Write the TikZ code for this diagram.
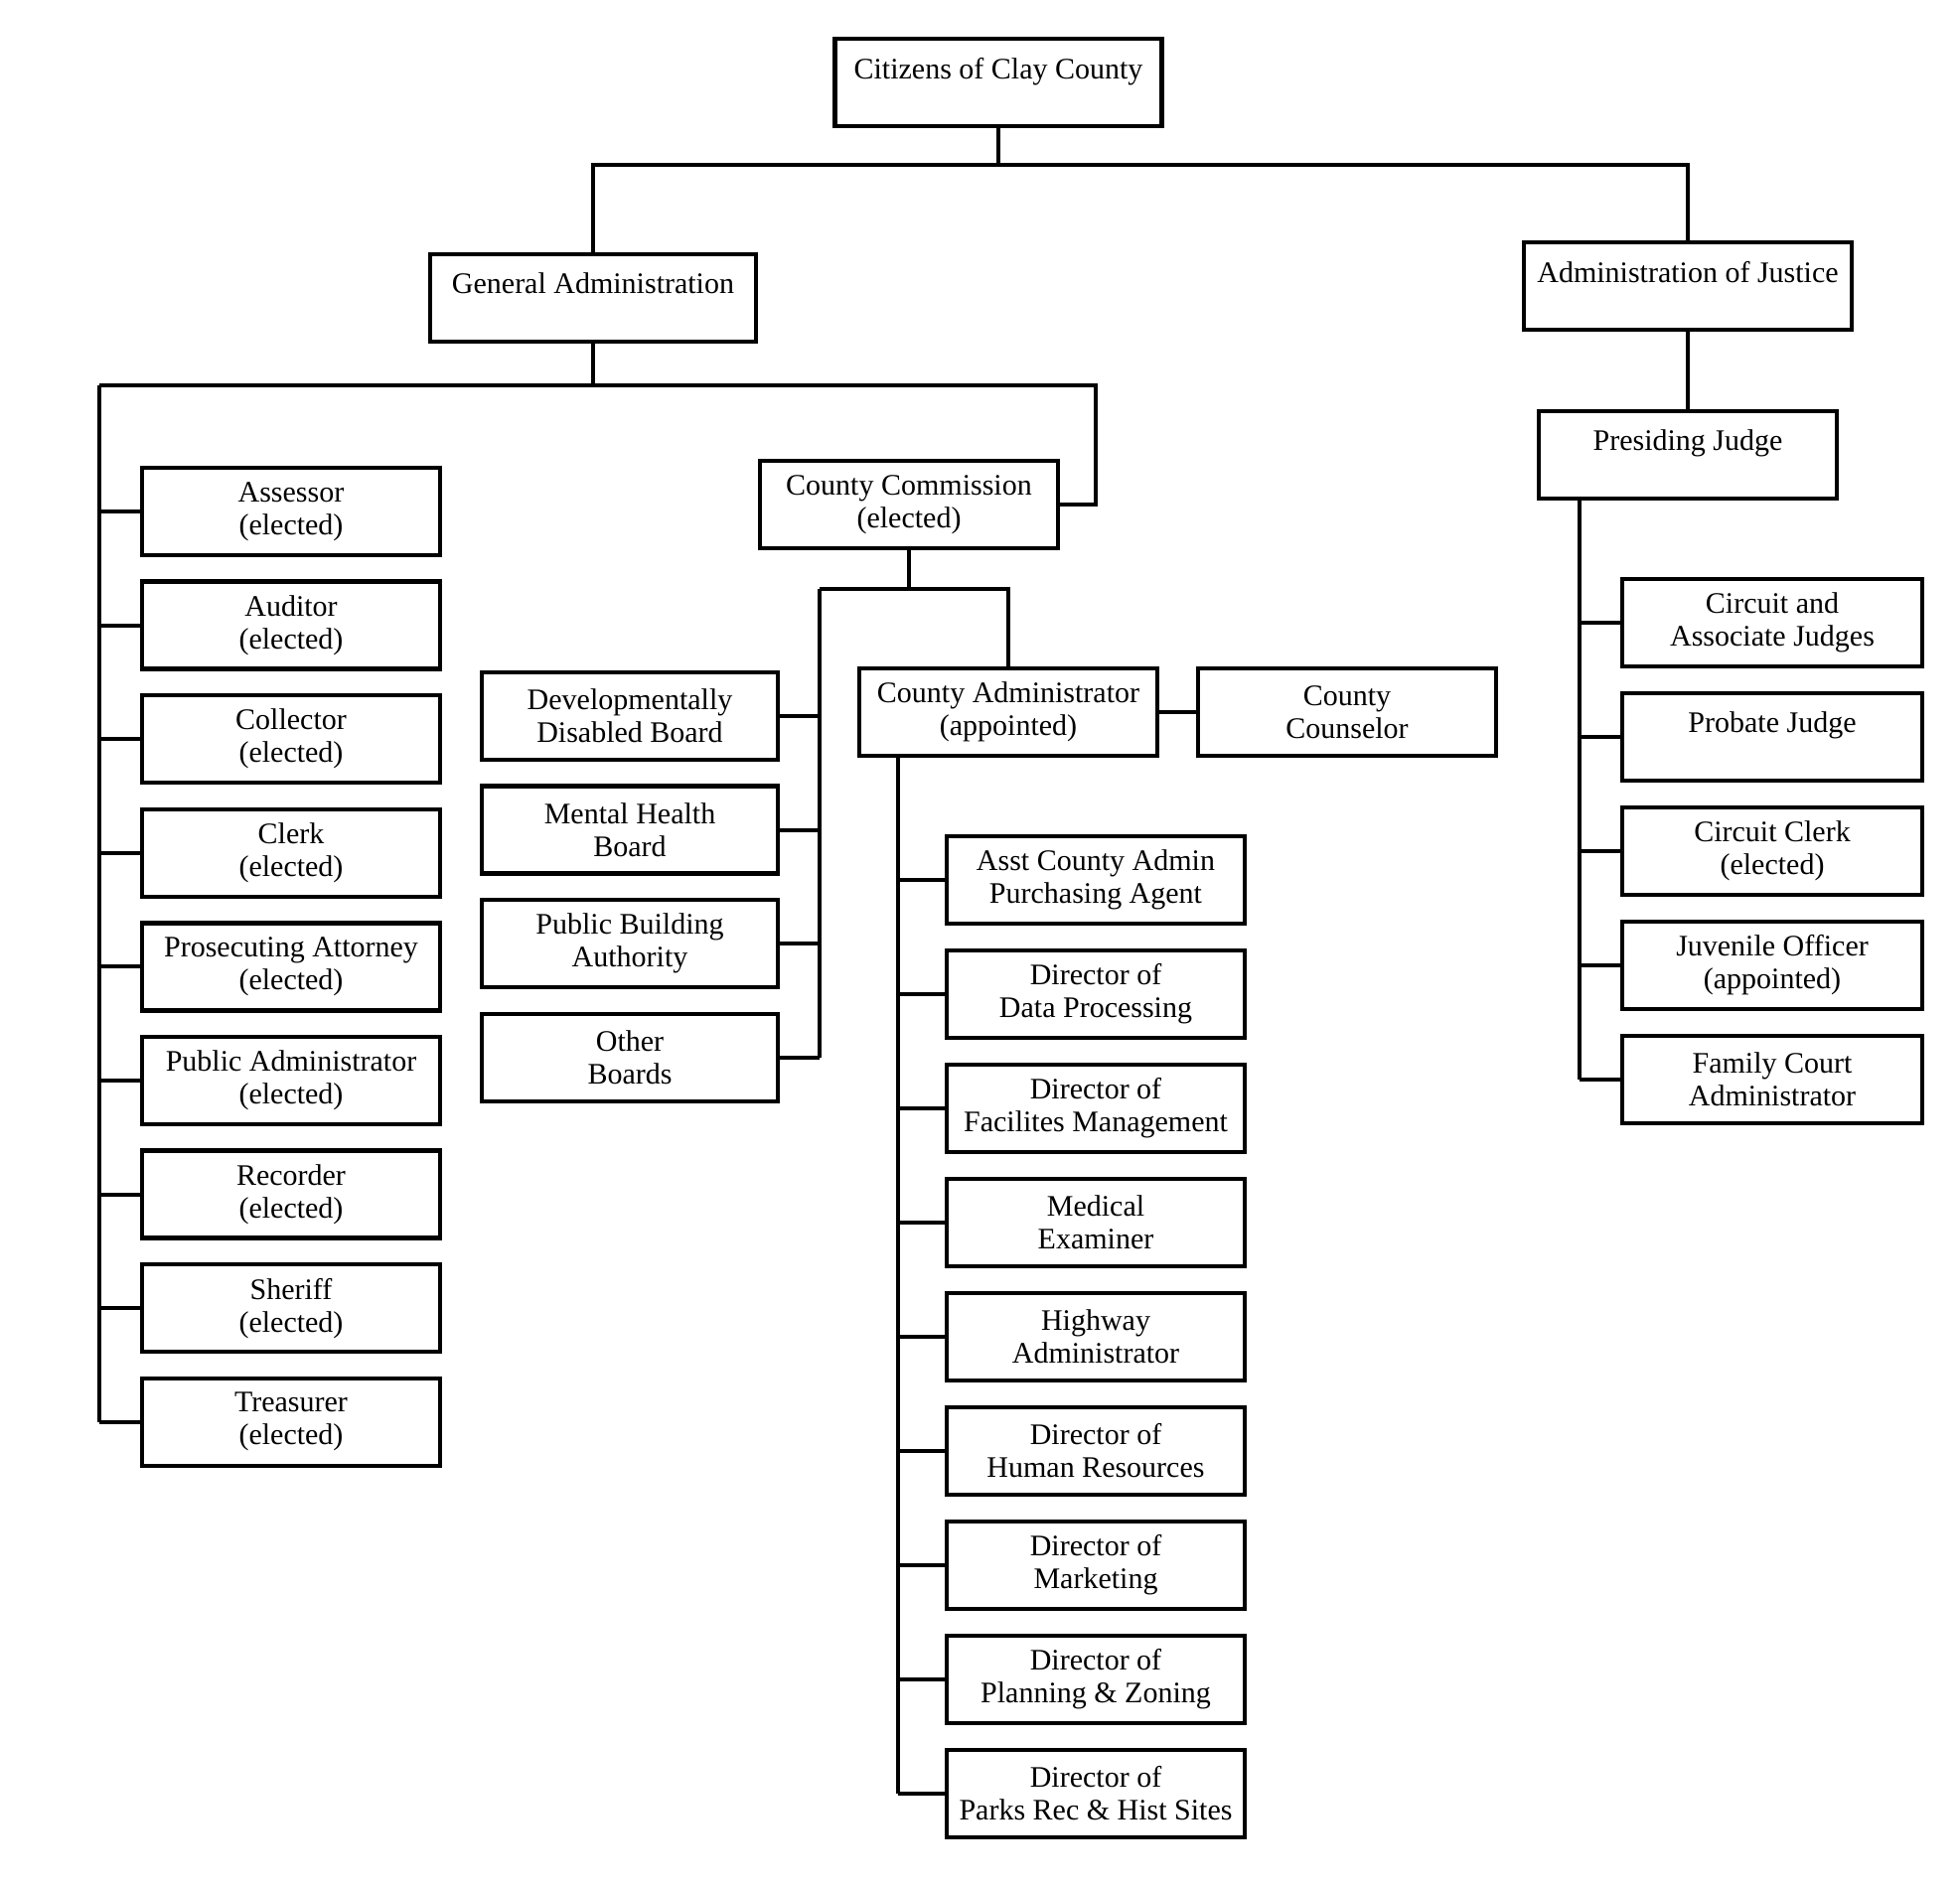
\documentclass[tikz,border=0pt]{standalone}
\usepackage{fontspec}
\setmainfont{Liberation Serif}
\usetikzlibrary{positioning,calc}
\tikzset{
  box/.style={draw,line width=4.5pt,minimum width=300pt,minimum height=88pt,align=center,inner sep=2pt,font=\fontsize{30}{33}\selectfont},
  link/.style={line width=4pt},
}

\begin{document}
\begin{tikzpicture}[x=1pt,y=-1pt]
  \useasboundingbox (0,0) rectangle (1973,1900);
  % top levels
  \node[box,minimum width=329pt] (cit) at (1005,83) {Citizens of Clay County\\[-4pt]~};
  \node[box,minimum width=328pt] (ga) at (597,300) {General Administration\\[-4pt]~};
  \node[box,minimum width=330pt] (aj) at (1699,288) {Administration of Justice\\[-4pt]~};
  \draw[link] (cit.south) -- ++(0,37) coordinate (tj);
  \draw[link] (ga.north) |- (tj) -| (aj.north);

  % general administration
  \coordinate (lbus) at (100,388);
  \coordinate (ccr) at (1103,388);
  \node[box] (cc) at (915,508) {County Commission\\(elected)};
  \draw[link] (ga.south) -- (ga.south |- lbus);
  \draw[link] (lbus) -- (ccr) |- (cc.east);
  \foreach \t [count=\i] in {Assessor,Auditor,Collector,Clerk,Prosecuting Attorney,Public Administrator,Recorder,Sheriff,Treasurer}{
    \node[box] (off\i) at (293,{515+114.6*(\i-1)}) {\t\\(elected)};
    \draw[link] (off\i.west) -- (off\i.west -| lbus);
  }
  \draw[link] (lbus) -- (lbus |- off9.west);

  % boards and county administrator
  \coordinate (bbus) at (825,593);
  \node[box] (ca) at (1015,717) {County Administrator\\(appointed)};
  \node[box] (cns) at (1356,717) {County\\Counselor};
  \draw[link] (cc.south) -- (cc.south |- bbus);
  \draw[link] (bbus) -| (ca.north);
  \draw[link] (ca.east) -- (cns.west);
  \foreach \t [count=\i] in {{Developmentally\\Disabled Board},{Mental Health\\Board},{Public Building\\Authority},{Other\\Boards}}{
    \node[box,minimum width=298pt] (brd\i) at (634,{721+114.6*(\i-1)}) {\t};
    \draw[link] (brd\i.east) -- (brd\i.east -| bbus);
  }
  \draw[link] (bbus) -- (bbus |- brd4.east);

  \coordinate (abus) at (904,761);
  \foreach \t [count=\i] in {{Asst County Admin\\Purchasing Agent},{Director of\\Data Processing},{Director of\\Facilites Management},{Medical\\Examiner},{Highway\\Administrator},{Director of\\Human Resources},{Director of\\Marketing},{Director of\\Planning \& Zoning},{Director of\\Parks Rec \& Hist Sites}}{
    \node[box] (dir\i) at (1103,{886+115*(\i-1)}) {\t};
    \draw[link] (dir\i.west) -- (dir\i.west -| abus);
  }
  \draw[link] (abus) -- (abus |- dir9.west);

  % administration of justice
  \node[box] (pj) at (1699,458) {Presiding Judge\\[-4pt]~};
  \draw[link] (aj.south) -- (pj.north);
  \coordinate (jbus) at (1590,503);
  \foreach \t [count=\i] in {{Circuit and\\Associate Judges},{Probate Judge\\[-4pt]~},{Circuit Clerk\\(elected)},{Juvenile Officer\\(appointed)},{Family Court\\Administrator}}{
    \node[box,minimum width=302pt] (jud\i) at (1784,{627+115*(\i-1)}) {\t};
    \draw[link] (jud\i.west) -- (jud\i.west -| jbus);
  }
  \draw[link] (jbus) -- (jbus |- jud5.west);
\end{tikzpicture}
\end{document}
